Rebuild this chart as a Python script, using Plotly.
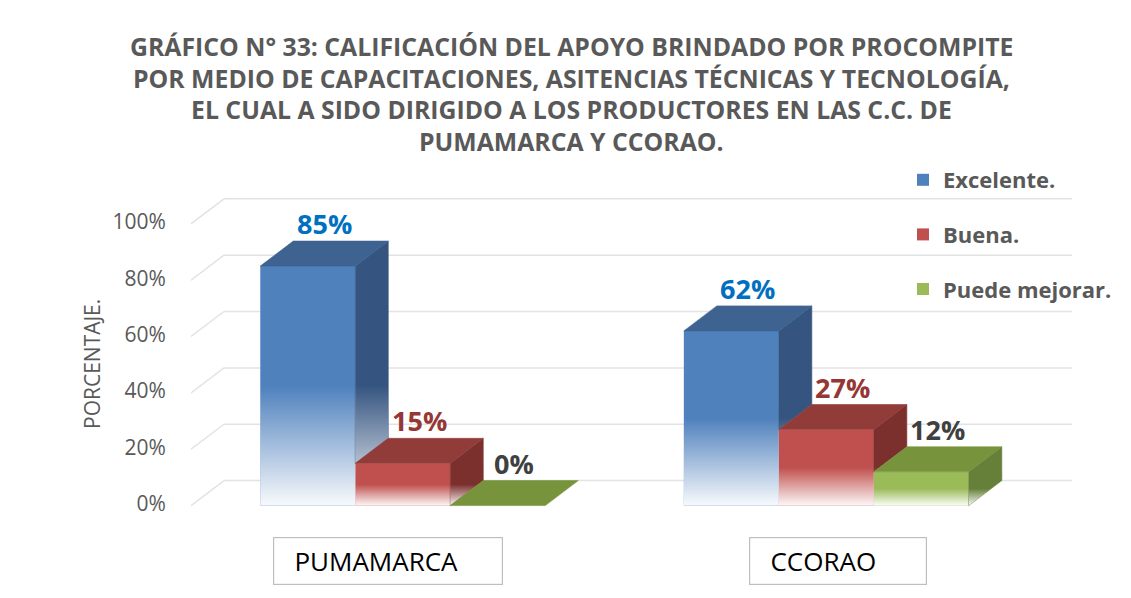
import plotly.graph_objects as go

# ---------------- data ----------------
categories = ["PUMAMARCA", "CCORAO"]
series_names = ["Excelente.", "Buena.", "Puede mejorar."]
excelente = [0.85, 0.62]
buena = [0.15, 0.27]
puede_mejorar = [0.00, 0.12]
value_ticks = [0.0, 0.2, 0.4, 0.6, 0.8, 1.0]
title_lines = [
    "GRÁFICO N° 33: CALIFICACIÓN DEL APOYO BRINDADO POR PROCOMPITE",
    "POR MEDIO DE CAPACITACIONES, ASITENCIAS TÉCNICAS Y TECNOLOGÍA,",
    "EL CUAL A SIDO DIRIGIDO A LOS PRODUCTORES EN LAS C.C. DE",
    "PUMAMARCA Y CCORAO.",
]
axis_title = "PORCENTAJE."

series_values = [excelente, buena, puede_mejorar]

# ---------------- styles ----------------
front_colors = ["#4F81BD", "#C0504D", "#9BBB59"]
top_colors = ["#3E6391", "#923C3A", "#77933C"]
side_colors = ["#355580", "#7C302E", "#66803A"]
label_colors = ["#0070C0", "#953735", "#404040"]
GRID = "#E3E3E3"
TEXT = "#595959"
FONT = "Open Sans"

OFF = 8                      # page body margin of the browser
W, H = 1131 - OFF, 598 - OFF
ML, MR, MT, MB = 191 - OFF, 59, 190 - OFF, 91
XR = [-0.5, 1.58]
YR = [-0.005, 1.12]
PLOT_W = W - ML - MR
PLOT_H = H - MT - MB
PX_X = PLOT_W / (XR[1] - XR[0])
PX_Y = PLOT_H / (YR[1] - YR[0])
DDX = 33 / PX_X       # depth offset in data units
DDY = 25 / PX_Y
BAR_W = 0.2243
FADE = 0.5


def px_to_paper_x(px):
    return (px - OFF - ML) / PLOT_W


def px_to_paper_y(py):
    return (H - MB - (py - OFF)) / PLOT_H


fig = go.Figure()

# back-wall gridlines with diagonal floor connectors
shapes = []
for v in value_ticks:
    shapes.append(dict(type="line", xref="x", yref="y", layer="below",
                       x0=XR[0], y0=v, x1=XR[0] + DDX, y1=v + DDY,
                       line=dict(color=GRID, width=1.5)))
    shapes.append(dict(type="line", xref="x", yref="y", layer="below",
                       x0=XR[0] + DDX, y0=v + DDY, x1=XR[1], y1=v + DDY,
                       line=dict(color=GRID, width=1.5)))

# front faces as bars
for i, name in enumerate(series_names):
    fig.add_trace(go.Bar(
        x=list(range(len(categories))), y=series_values[i], name=name,
        legendgroup=name, marker=dict(color=front_colors[i], line=dict(width=0)),
        hoverinfo="x+y",
    ))

fade_scale = [[0, "rgba(255,255,255,0.96)"], [1, "rgba(255,255,255,0)"]]


def poly(xs, ys, color=None, gradient=None):
    kw = dict(x=xs + [xs[0]], y=ys + [ys[0]], mode="lines", fill="toself",
              showlegend=False, hoverinfo="skip")
    if gradient is not None:
        kw["fillgradient"] = gradient
        kw["line"] = dict(width=0, color="rgba(0,0,0,0)")
    else:
        kw["fillcolor"] = color
        kw["line"] = dict(width=0.6, color=color)
    fig.add_trace(go.Scatter(**kw))


annotations = []
n = len(series_names)
for j in range(len(categories)):
    for i in range(n):
        v = series_values[i][j]
        vn = series_values[i + 1][j] if i + 1 < n else 0.0
        xl = j - n * BAR_W / 2 + i * BAR_W
        xr = xl + BAR_W
        h = v * FADE
        # front fade overlay
        if v > 0:
            poly([xl, xr, xr, xl], [0, 0, h, h],
                 gradient=dict(type="vertical", colorscale=fade_scale, start=0, stop=h))
        # side face (part not hidden by next bar)
        if v > vn:
            poly([xr, xr, xr + DDX, xr + DDX], [vn, v, v + DDY, vn + DDY],
                 color=side_colors[i])
            if h > vn:
                poly([xr, xr, xr + DDX, xr + DDX], [vn, h, h + DDY, vn + DDY],
                     gradient=dict(type="vertical", colorscale=fade_scale, start=0, stop=h))
        # top face
        poly([xl, xr, xr + DDX, xl + DDX], [v, v, v + DDY, v + DDY], color=top_colors[i])
        # value label
        annotations.append(dict(
            x=(xl + xr) / 2 + DDX / 2, y=v + DDY, xref="x", yref="y",
            text=f"{v:.0%}", showarrow=False, yanchor="bottom", xanchor="center",
            yshift=-3,
            font=dict(family=FONT, size=27, color=label_colors[i], weight="bold"),
        ))

# category label boxes
box_widths = [228, 176]
box_shifts = [-15, 12]
for j, cat in enumerate(categories):
    annotations.append(dict(
        x=j, y=px_to_paper_y(561), xref="x", yref="paper", xshift=box_shifts[j],
        text="\u00a0\u00a0\u00a0" + cat, showarrow=False, align="left",
        width=box_widths[j], height=46, borderpad=0, bordercolor="#BFBFBF",
        borderwidth=1.2, bgcolor="white", xanchor="center", yanchor="middle",
        font=dict(family=FONT, size=26, color="#000000"),
    ))

# title lines
title_y = [46, 77.5, 109, 140.5]
for line, ty in zip(title_lines, title_y):
    annotations.append(dict(
        x=px_to_paper_x(571), y=px_to_paper_y(ty), xref="paper", yref="paper",
        text=line, showarrow=False, xanchor="center", yanchor="middle",
        font=dict(family=FONT, size=24.8, color=TEXT, weight="bold"),
    ))

# y axis title
annotations.append(dict(
    x=px_to_paper_x(92), y=px_to_paper_y(364), xref="paper", yref="paper",
    text=axis_title, showarrow=False, textangle=-90, xanchor="center", yanchor="middle",
    font=dict(family=FONT, size=21, color=TEXT),
))

fig.update_layout(
    width=W, height=H, autosize=False,
    margin=dict(l=ML, r=MR, t=MT, b=MB, pad=0),
    paper_bgcolor="white", plot_bgcolor="white",
    barmode="group", bargap=1 - n * BAR_W, bargroupgap=0,
    xaxis=dict(range=XR, visible=False, fixedrange=True),
    yaxis=dict(range=YR, tickvals=value_ticks, tickformat=".0%", showgrid=False,
               zeroline=False, showline=False, ticks="outside", ticklen=20,
               tickcolor="rgba(0,0,0,0)", ticklabelshift=-2,
               tickfont=dict(family=FONT, size=21, color=TEXT), fixedrange=True),
    legend=dict(x=px_to_paper_x(903), y=px_to_paper_y(159), xanchor="left", yanchor="top",
                bgcolor="rgba(0,0,0,0)", tracegroupgap=23,
                font=dict(family=FONT, size=22, color=TEXT, weight="bold")),
    shapes=shapes,
    annotations=annotations,
    showlegend=True,
)

fig.write_html("out.html")
